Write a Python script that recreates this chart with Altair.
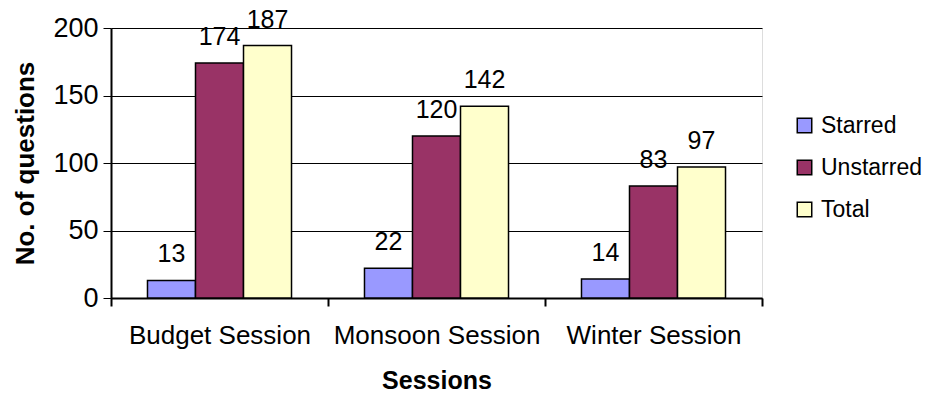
import altair as alt
import pandas as pd

sessions = ["Budget Session", "Monsoon Session", "Winter Session"]
series = ["Starred", "Unstarred", "Total"]
starred = [13, 22, 14]
unstarred = [174, 120, 83]
total = [187, 142, 97]
colors = ["#9999FF", "#993366", "#FFFFCC"]

rows = []
for i, s in enumerate(sessions):
    for name, vals in zip(series, [starred, unstarred, total]):
        rows.append({"Session": s, "Type": name, "Value": vals[i]})
df = pd.DataFrame(rows)

FONT = "Liberation Sans"

x = alt.X("Session:N", sort=sessions,
          scale=alt.Scale(paddingInner=0, paddingOuter=0),
          axis=alt.Axis(title="Sessions", labelAngle=0, tickBand="extent",
                        tickSize=8, tickColor="black", tickWidth=2,
                        domainColor="black", domainWidth=2, labelLimit=0,
                        labelFontSize=26, labelPadding=16, labelColor="black",
                        titleFontSize=25, titleFontWeight="bold", titlePadding=20,
                        titleColor="black", labelFont=FONT, titleFont=FONT, grid=False))
xo = alt.XOffset("Type:N", sort=series, scale=alt.Scale(paddingOuter=0.76, paddingInner=0))

bars = alt.Chart(df).mark_bar(stroke="black", strokeWidth=1.5).encode(
    x=x,
    xOffset=xo,
    y=alt.Y("Value:Q", scale=alt.Scale(domain=[0, 200]),
            axis=alt.Axis(title="No. of questions", values=[0, 50, 100, 150, 200],
                          grid=True, gridColor="black", gridWidth=1,
                          tickSize=8, tickColor="black", tickWidth=1,
                          domainColor="black", domainWidth=2,
                          labelFontSize=27, labelPadding=5, labelColor="black",
                          titleFontSize=26, titleFontWeight="bold", titlePadding=14,
                          titleColor="black", labelFont=FONT, titleFont=FONT)),
    color=alt.Color("Type:N", sort=series,
                    scale=alt.Scale(domain=series, range=colors),
                    legend=alt.Legend(title=None, orient="none", legendX=682, legendY=86,
                                      symbolType="square", symbolSize=210,
                                      symbolStrokeColor="black", symbolStrokeWidth=1.5,
                                      labelFontSize=23, labelFont=FONT, labelColor="black",
                                      labelOffset=5, rowPadding=18, padding=0, labelLimit=0)),
)

labels = alt.Chart(df).mark_text(baseline="alphabetic", dy=-18, fontSize=25,
                                 font=FONT, color="black").encode(
    x=alt.X("Session:N", sort=sessions),
    xOffset=alt.XOffset("Type:N", sort=series),
    y="Value:Q",
    text="Value:Q",
)

chart = (bars + labels).properties(
    width=651, height=270,
    autosize=alt.AutoSizeParams(type="none"),
    padding={"left": 103, "top": 20, "right": 162, "bottom": 94},
).configure_view(stroke="black", strokeWidth=2).configure(background="white")

chart.save("out.html", embed_options={"renderer": "svg", "actions": False})
